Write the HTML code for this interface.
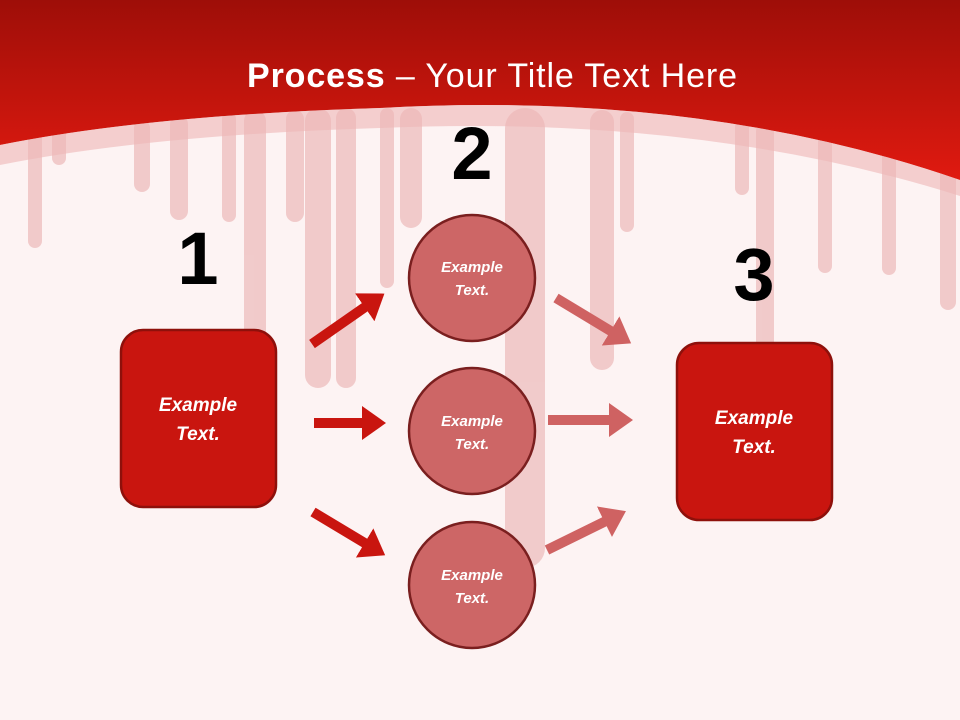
<!DOCTYPE html>
<html><head><meta charset="utf-8"><style>html,body{margin:0;padding:0;background:#fdf3f3}svg{display:block}</style></head>
<body>
<svg width="960" height="720" viewBox="0 0 960 720" xmlns="http://www.w3.org/2000/svg">
<defs>
<linearGradient id="hg" x1="0" y1="0" x2="0" y2="1">
<stop offset="0" stop-color="#9e0e08"/><stop offset="1" stop-color="#e01a10"/>
</linearGradient>
<marker id="ah1" markerWidth="3" markerHeight="3.4" refX="0.4" refY="1.7" orient="auto" markerUnits="strokeWidth"><path d="M0,0 L2.4,1.7 L0,3.4 z" fill="#c9150f"/></marker>
<marker id="ah2" markerWidth="3" markerHeight="3.4" refX="0.4" refY="1.7" orient="auto" markerUnits="strokeWidth"><path d="M0,0 L2.4,1.7 L0,3.4 z" fill="#cf6262"/></marker>
</defs>
<rect width="960" height="720" fill="#fdf3f3"/>
<g fill="#e6a3a3" opacity="0.5">
<rect x="28" y="130" width="14" height="118" rx="7"/>
<rect x="52" y="125" width="14" height="40" rx="7"/>
<rect x="134" y="120" width="16" height="72" rx="8"/>
<rect x="170" y="115" width="18" height="105" rx="9"/>
<rect x="222" y="112" width="14" height="110" rx="7"/>
<rect x="244" y="110" width="22" height="330" rx="11"/>
<rect x="286" y="110" width="18" height="112" rx="9"/>
<rect x="305" y="108" width="26" height="280" rx="13"/>
<rect x="336" y="108" width="20" height="280" rx="10"/>
<rect x="380" y="108" width="14" height="180" rx="7"/>
<rect x="400" y="108" width="22" height="120" rx="11"/>
<rect x="505" y="108" width="40" height="460" rx="20"/>
<rect x="590" y="110" width="24" height="260" rx="12"/>
<rect x="620" y="112" width="14" height="120" rx="7"/>
<rect x="735" y="120" width="14" height="75" rx="7"/>
<rect x="756" y="122" width="18" height="230" rx="9"/>
<rect x="818" y="128" width="14" height="145" rx="7"/>
<rect x="882" y="140" width="14" height="135" rx="7"/>
<rect x="940" y="150" width="16" height="160" rx="8"/>
</g>
<path d="M0,0 H960 V180 Q700,90 380,108 Q150,115 0,145 Z" fill="url(#hg)"/>
<path d="M0,145 Q150,115 380,108 Q700,90 960,180 V196 Q700,114 380,128 Q150,135 0,165 Z" fill="#eeb6b6" opacity="0.6"/>
<text x="492" y="87" text-anchor="middle" font-family="Liberation Sans, sans-serif" font-size="34" fill="#fff" textLength="490"><tspan font-weight="bold">Process</tspan> – Your Title Text Here</text>
<g font-family="Liberation Sans, sans-serif" font-weight="bold" font-size="74" fill="#000" text-anchor="middle">
<text x="198" y="284">1</text>
<text x="472" y="179">2</text>
<text x="754" y="300">3</text>
</g>
<g stroke-width="10" fill="none">
<line x1="312" y1="344" x2="368" y2="305" stroke="#c9150f" marker-end="url(#ah1)"/>
<line x1="314" y1="423" x2="366" y2="423" stroke="#c9150f" marker-end="url(#ah1)"/>
<line x1="313" y1="512" x2="368" y2="545" stroke="#c9150f" marker-end="url(#ah1)"/>
<line x1="556" y1="298" x2="614" y2="333" stroke="#cf6262" marker-end="url(#ah2)"/>
<line x1="548" y1="420" x2="613" y2="420" stroke="#cf6262" marker-end="url(#ah2)"/>
<line x1="547" y1="550" x2="608" y2="520" stroke="#cf6262" marker-end="url(#ah2)"/>
</g>
<rect x="121" y="330" width="155" height="177" rx="22" fill="#c9150f" stroke="#8e100b" stroke-width="2.5"/>
<rect x="677" y="343" width="155" height="177" rx="22" fill="#c9150f" stroke="#8e100b" stroke-width="2.5"/>
<g fill="#cd6666" stroke="#7a1f1f" stroke-width="2.5">
<circle cx="472" cy="278" r="63"/>
<circle cx="472" cy="431" r="63"/>
<circle cx="472" cy="585" r="63"/>
</g>
<g font-family="Liberation Sans, sans-serif" font-weight="bold" font-style="italic" fill="#fff" text-anchor="middle">
<text x="198" y="411" font-size="19">Example</text>
<text x="198" y="440" font-size="19">Text.</text>
<text x="754" y="424" font-size="19">Example</text>
<text x="754" y="453" font-size="19">Text.</text>
<text x="472" y="272" font-size="15">Example</text>
<text x="472" y="295" font-size="15">Text.</text>
<text x="472" y="426" font-size="15">Example</text>
<text x="472" y="449" font-size="15">Text.</text>
<text x="472" y="580" font-size="15">Example</text>
<text x="472" y="603" font-size="15">Text.</text>
</g>
</svg>
</body></html>
